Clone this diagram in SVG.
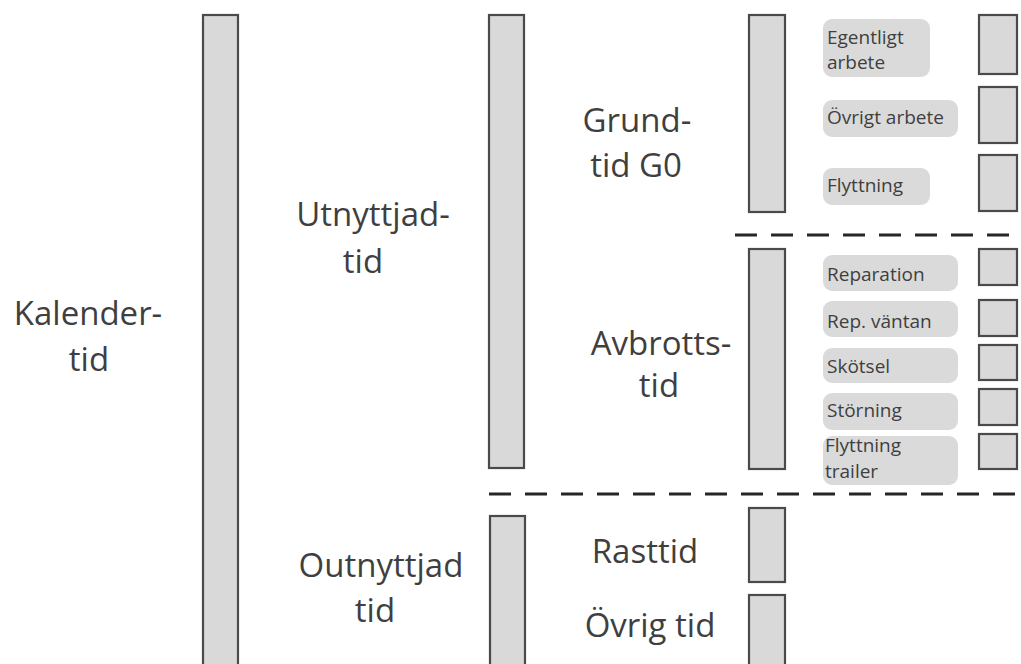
<svg xmlns="http://www.w3.org/2000/svg" width="1021" height="664" viewBox="0 0 1021 664">
<style>
.bar{fill:#d9d9d9;stroke:#4a4a4a;stroke-width:2.2}
.lbl{fill:#dadada;stroke:none}
.big{font-family:"Open Sans",sans-serif;font-size:33px;fill:#3f3f3f;text-anchor:middle}
.sm{font-family:"Open Sans",sans-serif;font-size:19px;fill:#3f3f3f}
.dash{stroke:#262626;stroke-width:3;stroke-dasharray:22 14;fill:none}
</style>
<rect width="1021" height="664" fill="#ffffff"/>
<g id="kalendertid">
<rect class="bar" x="203" y="15" width="35" height="660"/>
<text class="big" x="88" y="325">Kalender-</text>
<text class="big" x="89" y="371">tid</text>
</g>
<g id="utnyttjadtid">
<rect class="bar" x="489" y="15" width="35" height="453"/>
<text class="big" x="373" y="226">Utnyttjad-</text>
<text class="big" x="363" y="273">tid</text>
</g>
<g id="outnyttjadtid">
<rect class="bar" x="490" y="516" width="35" height="160"/>
<text class="big" x="381" y="577">Outnyttjad</text>
<text class="big" x="375" y="622">tid</text>
</g>
<g id="grundtid">
<rect class="bar" x="749" y="15" width="36" height="197"/>
<text class="big" x="637" y="132">Grund-</text>
<text class="big" x="636" y="177">tid G0</text>
</g>
<g id="avbrottstid">
<rect class="bar" x="749" y="249" width="36" height="220"/>
<text class="big" x="661" y="355">Avbrotts-</text>
<text class="big" x="659" y="397">tid</text>
</g>
<g id="rasttid">
<rect class="bar" x="749" y="508" width="36" height="74"/>
<text class="big" x="645" y="563">Rasttid</text>
</g>
<g id="ovrigtid">
<rect class="bar" x="749" y="595" width="36" height="80"/>
<text class="big" x="650" y="637">Övrig tid</text>
</g>
<g id="egentligt">
<rect class="lbl" x="823" y="19" width="107" height="58" rx="9"/>
<text class="sm" x="827" y="44">Egentligt</text>
<text class="sm" x="827" y="69">arbete</text>
<rect class="bar" x="979" y="15" width="38" height="59"/>
</g>
<g id="ovrigtarbete">
<rect class="lbl" x="823" y="100" width="135" height="37" rx="9"/>
<text class="sm" x="827" y="124">Övrigt arbete</text>
<rect class="bar" x="979" y="87" width="38" height="56"/>
</g>
<g id="flyttning">
<rect class="lbl" x="823" y="168" width="107" height="37" rx="9"/>
<text class="sm" x="827" y="192">Flyttning</text>
<rect class="bar" x="979" y="155" width="38" height="56"/>
</g>
<g id="reparation">
<rect class="lbl" x="823" y="255" width="135" height="36" rx="9"/>
<text class="sm" x="827" y="281">Reparation</text>
<rect class="bar" x="979" y="249" width="38" height="36"/>
</g>
<g id="repvantan">
<rect class="lbl" x="823" y="301" width="135" height="36" rx="9"/>
<text class="sm" x="827" y="328">Rep. väntan</text>
<rect class="bar" x="979" y="300" width="38" height="36"/>
</g>
<g id="skotsel">
<rect class="lbl" x="823" y="348" width="135" height="35" rx="9"/>
<text class="sm" x="827" y="373">Skötsel</text>
<rect class="bar" x="979" y="345" width="38" height="35"/>
</g>
<g id="storning">
<rect class="lbl" x="823" y="393" width="135" height="37" rx="9"/>
<text class="sm" x="827" y="417">Störning</text>
<rect class="bar" x="979" y="389" width="38" height="36"/>
</g>
<g id="flyttningtrailer">
<rect class="lbl" x="823" y="436" width="135" height="49" rx="9"/>
<text class="sm" x="825" y="452">Flyttning</text>
<text class="sm" x="825" y="478">trailer</text>
<rect class="bar" x="979" y="434" width="38" height="35"/>
</g>
<g id="connectors">
<line class="dash" x1="735" y1="235" x2="1021" y2="235"/>
<line class="dash" x1="489" y1="494" x2="1021" y2="494"/>
</g>
</svg>
